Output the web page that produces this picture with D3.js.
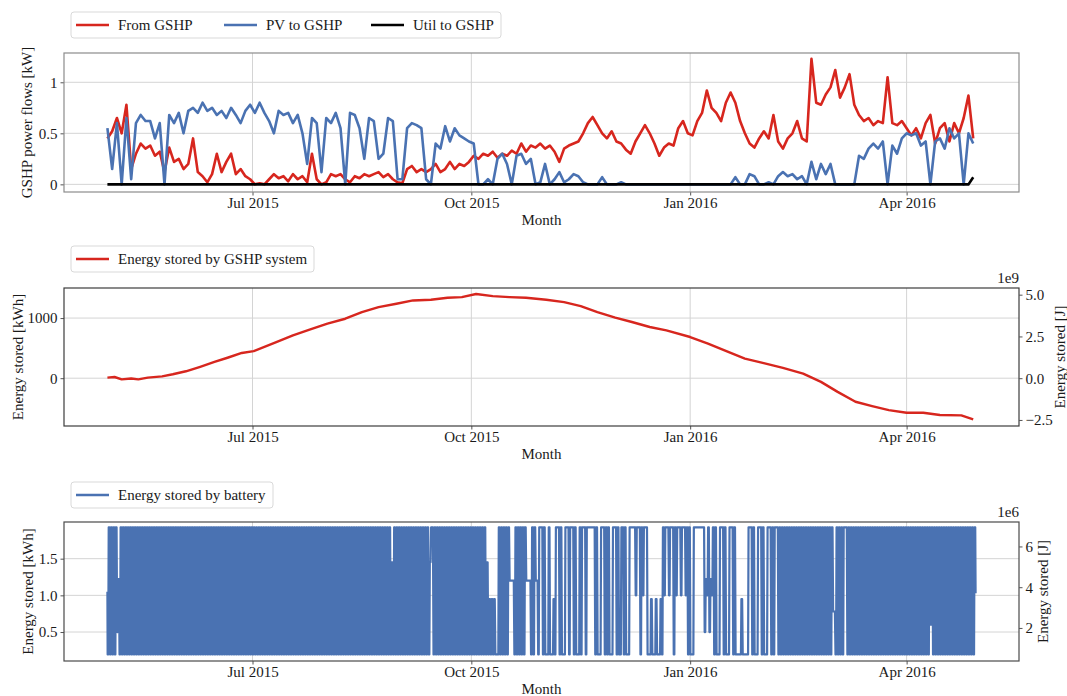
<!DOCTYPE html>
<html>
<head>
<meta charset="utf-8">
<script src="https://cdn.jsdelivr.net/npm/d3@7"></script>
<style>
body { margin: 0; background: #fff; }
svg { display: block; font-family: "Liberation Serif", "Times New Roman", serif; }
.tick text { font-size: 15px; fill: #1a1a1a; }
.tick line { stroke: #555; }
.lbl { font-size: 15px; fill: #1a1a1a; }
</style>
</head>
<body>
<svg id="chart" width="1067" height="696"></svg>
<script>
// series start on 1 May 2015, x values are day offsets from there
var startDate = Date.UTC(2015, 4, 1);

// GSHP power flows [kW], one value every 2 days (day 0, 2, 4 ... 364)
var flowStep = 2;
var fromGshp = [
  0.45, 0.52, 0.65, 0.5, 0.78, 0.15, 0.3, 0.4, 0.35, 0.38,
  0.28, 0.32, 0.12, 0.36, 0.22, 0.25, 0.15, 0.2, 0.45, 0.12,
  0.08, 0.02, 0.1, 0.3, 0.12, 0.22, 0.3, 0.1, 0.15, 0.08,
  0.05, 0.0, 0.01, 0.0, 0.05, 0.1, 0.06, 0.08, 0.03, 0.1,
  0.05, 0.08, 0.02, 0.3, 0.05, 0.0, 0.02, 0.1, 0.08, 0.1,
  0.05, 0.02, 0.08, 0.06, 0.1, 0.08, 0.1, 0.12, 0.07, 0.1,
  0.05, 0.02, 0.01, 0.15, 0.18, 0.12, 0.15, 0.12, 0.15, 0.2,
  0.12, 0.15, 0.22, 0.15, 0.2, 0.18, 0.22, 0.28, 0.25, 0.3,
  0.28, 0.32, 0.26, 0.3, 0.28, 0.33, 0.3, 0.4, 0.32, 0.38,
  0.36, 0.4, 0.35, 0.38, 0.32, 0.22, 0.35, 0.38, 0.4, 0.42,
  0.5, 0.6, 0.66, 0.58, 0.5, 0.45, 0.52, 0.42, 0.4, 0.34,
  0.3, 0.42, 0.5, 0.58, 0.5, 0.4, 0.28, 0.36, 0.4, 0.38,
  0.55, 0.62, 0.5, 0.48, 0.62, 0.7, 0.92, 0.75, 0.7, 0.62,
  0.8, 0.9, 0.8, 0.62, 0.5, 0.4, 0.36, 0.45, 0.52, 0.45,
  0.68, 0.42, 0.35, 0.45, 0.5, 0.62, 0.45, 0.42, 1.23, 0.8,
  0.78, 0.88, 0.95, 1.12, 0.85, 0.95, 1.08, 0.78, 0.68, 0.62,
  0.65, 0.58, 0.62, 0.6, 1.05, 0.6, 0.58, 0.62, 0.55, 0.48,
  0.55, 0.45, 0.6, 0.68, 0.4, 0.55, 0.6, 0.42, 0.6, 0.5,
  0.65, 0.87, 0.45
];
var pvToGshp = [
  0.55, 0.15, 0.6, 0.0, 0.65, 0.05, 0.6, 0.68, 0.62, 0.62,
  0.45, 0.6, 0.0, 0.68, 0.6, 0.7, 0.5, 0.72, 0.75, 0.7,
  0.8, 0.72, 0.75, 0.68, 0.72, 0.65, 0.75, 0.68, 0.6, 0.72,
  0.78, 0.7, 0.8, 0.7, 0.62, 0.5, 0.72, 0.68, 0.7, 0.6,
  0.68, 0.5, 0.2, 0.65, 0.6, 0.12, 0.65, 0.6, 0.7, 0.55,
  0.0, 0.7, 0.68, 0.55, 0.25, 0.65, 0.62, 0.25, 0.3, 0.65,
  0.62, 0.05, 0.05, 0.55, 0.6, 0.58, 0.55, 0.05, 0.0, 0.4,
  0.35, 0.57, 0.42, 0.55, 0.48, 0.45, 0.42, 0.4, 0.0, 0.0,
  0.05, 0.0, 0.25, 0.3, 0.2, 0.0, 0.28, 0.3, 0.2, 0.25,
  0.0, 0.02, 0.2, 0.0, 0.05, 0.12, 0.02, 0.05, 0.1, 0.08,
  0.02, 0, 0, 0, 0.07, 0, 0, 0, 0.02, 0,
  0, 0, 0, 0, 0, 0, 0, 0, 0, 0,
  0, 0, 0, 0, 0, 0, 0, 0, 0, 0,
  0, 0, 0.07, 0, 0, 0.1, 0.08, 0, 0, 0.02,
  0, 0.08, 0.12, 0.08, 0.1, 0.05, 0.08, 0, 0.22, 0.05,
  0.2, 0.1, 0.2, 0, 0, 0, 0, 0, 0.28, 0.25,
  0.35, 0.4, 0.35, 0.42, 0, 0.38, 0.3, 0.45, 0.5, 0.48,
  0.5, 0.38, 0.42, 0, 0.42, 0.45, 0.35, 0.55, 0.45, 0.5,
  0, 0.5, 0.4
];
var utilDays = [0, 362, 364];
var utilToGshp = [0, 0, 0.07];

// energy stored by GSHP system [kWh]
var gshpDays = [0, 3, 6, 10, 13, 17, 23, 27.5, 33, 39, 45, 50.5, 56.5, 61.5, 71, 78, 85, 92.5,
  100, 107, 114, 121.5, 128.5, 136, 143, 149, 155, 162, 169, 176, 184.5, 192, 199, 206, 213.5,
  220.5, 228, 235, 245, 252.5, 261, 268, 275.5, 284, 292.5, 300, 307, 314.5, 321.5, 328.5, 336,
  343, 350, 359, 364];
var gshpStored = [10, 20, -20, -5, -20, 10, 30, 65, 115, 190, 270, 340, 420, 450, 600, 713, 807, 906,
  989, 1100, 1182, 1238, 1293, 1304, 1337, 1348, 1400, 1365, 1348, 1337, 1304, 1265, 1199, 1100, 1006,
  934, 851, 796, 685, 575, 436, 326, 254, 171, 77, -61, -227, -392, -464, -530, -575,
  -575, -613, -619, -685];

// battery: one letter per day (day 0 ... 364), low / high level of that day [kWh]
var batteryPattern = [
  'ccccmccccccccccccccccccccccccc',
  'cccccccccccccccccccccccccccccc',
  'cccccccccccccccccccccccccccccc',
  'ccccccccccccccccccccccccccccca',
  'cccccccccccccccahccccccccccccc',
  'cccccccccabbblccccckkccccckkcc',
  'kchclclbchclchchclcchchhhclchc',
  'clchclhclchhehcehlblblbcehehce',
  'heheclchhhhmemeclchclchcllbllc',
  'hclchclchcchcccccccccccccccccc',
  'cccccncccchccccccccccccccccccc',
  'ccccccccccccccccfccccccccccccc',
  'ccccc'
].join('');
var batteryLevels = {
  c: [0.195, 1.927], h: [1.927, 1.927], l: [0.195, 0.195], a: [0.195, 1.45],
  b: [0.195, 0.95], e: [1.0, 1.927], m: [0.5, 1.22], k: [1.2, 1.2],
  n: [0.78, 0.78], f: [0.6, 1.927]
};
var batteryStart = 1.05;
var batteryEnd = 1.03;

var kwhToJ = 3.6e6;
var monthTicks = [Date.UTC(2015, 6, 1), Date.UTC(2015, 9, 1), Date.UTC(2016, 0, 1), Date.UTC(2016, 3, 1)];

var red = '#d7261e', blue = '#4a72b2';

var svg = d3.select('#chart');
svg.append('rect').attr('width', 1067).attr('height', 696).attr('fill', '#fff');

function dayDate(d) { return new Date(startDate + d * 864e5); }

// x scale with matplotlib style 5% padding
var xExt = [0, 365];
var xPad = (xExt[1] - xExt[0]) * 0.05;
var x = d3.scaleUtc()
  .domain([dayDate(xExt[0] - xPad), dayDate(xExt[1] + xPad)])
  .range([64, 1019]);

var fmtMonth = d3.utcFormat('%b %Y');

function clean(axisG) {
  axisG.attr('font-family', null).attr('font-size', null);
  axisG.select('.domain').remove();
}

function panel(top, bottom, yDomain, yTicks, yFmt, yLabel, yLabelX, frameColor) {
  var y = d3.scaleLinear().domain(yDomain).range([bottom, top]);
  var g = svg.append('g');

  // grid
  g.selectAll('.vg').data(monthTicks).enter().append('line')
    .attr('x1', function(d) { return x(d); }).attr('x2', function(d) { return x(d); })
    .attr('y1', top).attr('y2', bottom)
    .attr('stroke', '#d4d4d4').attr('stroke-width', 1);
  g.selectAll('.hg').data(yTicks).enter().append('line')
    .attr('x1', 64).attr('x2', 1019)
    .attr('y1', function(d) { return y(d); }).attr('y2', function(d) { return y(d); })
    .attr('stroke', '#d4d4d4').attr('stroke-width', 1);

  // axes
  var xa = g.append('g').attr('transform', 'translate(0,' + bottom + ')')
    .call(d3.axisBottom(x).tickValues(monthTicks.map(function(t) { return new Date(t); }))
      .tickFormat(fmtMonth).tickSize(3.5).tickPadding(2));
  clean(xa);
  var ya = g.append('g').attr('transform', 'translate(64,0)')
    .call(d3.axisLeft(y).tickValues(yTicks).tickFormat(yFmt).tickSize(3.5).tickPadding(3));
  clean(ya);

  g.append('text').attr('class', 'lbl')
    .attr('x', (64 + 1019) / 2).attr('y', bottom + 28)
    .attr('text-anchor', 'middle').attr('dominant-baseline', 'central')
    .text('Month');
  g.append('text').attr('class', 'lbl')
    .attr('transform', 'translate(' + yLabelX + ',' + ((top + bottom) / 2) + ') rotate(-90)')
    .attr('text-anchor', 'middle').attr('dominant-baseline', 'central')
    .text(yLabel);

  var plot = g.append('g');
  g.append('rect').attr('x', 64).attr('y', top).attr('width', 1019 - 64).attr('height', bottom - top)
    .attr('fill', 'none').attr('stroke', frameColor).attr('stroke-width', 1.2);
  return { g: g, plot: plot, y: y, top: top, bottom: bottom };
}

function rightAxis(p, ticksJ, fmt, offsetLabel, labelX) {
  var yJ = d3.scaleLinear()
    .domain(p.y.domain().map(function(v) { return v * kwhToJ; }))
    .range(p.y.range());
  var ra = p.g.append('g').attr('transform', 'translate(1019,0)')
    .call(d3.axisRight(yJ).tickValues(ticksJ).tickFormat(fmt).tickSize(3.5).tickPadding(3));
  clean(ra);
  p.g.append('text').attr('class', 'lbl')
    .attr('x', 1019).attr('y', p.top - 5).attr('text-anchor', 'end')
    .text(offsetLabel);
  p.g.append('text').attr('class', 'lbl')
    .attr('transform', 'translate(' + labelX + ',' + ((p.top + p.bottom) / 2) + ') rotate(-90)')
    .attr('text-anchor', 'middle').attr('dominant-baseline', 'central')
    .text('Energy stored [J]');
}

function legend(items, x0, y0, w) {
  var g = svg.append('g');
  g.append('rect').attr('x', x0).attr('y', y0).attr('width', w).attr('height', 26)
    .attr('rx', 3).attr('fill', '#fff').attr('fill-opacity', 0.9)
    .attr('stroke', '#d9d9d9').attr('stroke-width', 1);
  items.forEach(function(it) {
    g.append('line').attr('x1', it.x).attr('x2', it.x + 33)
      .attr('y1', y0 + 13).attr('y2', y0 + 13)
      .attr('stroke', it.color).attr('stroke-width', 2.5);
    g.append('text').attr('class', 'lbl').attr('x', it.x + 42).attr('y', y0 + 13)
      .attr('dominant-baseline', 'central').text(it.name);
  });
}

var minus = function(s) { return s.replace('-', '\u2212'); };

// ---- panel 1: power flows
var p1 = panel(53, 192, [-0.075, 1.287], [0, 0.5, 1], d3.format(''), 'GSHP power flows [kW]', 27, '#8c8c8c');
var line1 = d3.line()
  .x(function(d, i) { return x(dayDate(i * flowStep)); })
  .y(function(d) { return p1.y(d); });
p1.plot.append('path').datum(fromGshp).attr('d', line1)
  .attr('fill', 'none').attr('stroke', red).attr('stroke-width', 2.6).attr('stroke-linejoin', 'round');
p1.plot.append('path').datum(pvToGshp).attr('d', line1)
  .attr('fill', 'none').attr('stroke', blue).attr('stroke-width', 2.6).attr('stroke-linejoin', 'round');
p1.plot.append('path').datum(utilToGshp).attr('d', d3.line()
    .x(function(d, i) { return x(dayDate(utilDays[i])); })
    .y(function(d) { return p1.y(d); }))
  .attr('fill', 'none').attr('stroke', '#000').attr('stroke-width', 2.6);
legend([
  { name: 'From GSHP', color: red, x: 76 },
  { name: 'PV to GSHP', color: blue, x: 224 },
  { name: 'Util to GSHP', color: '#000', x: 371 }
], 71, 12, 430);

// ---- panel 2: GSHP energy store
var p2 = panel(288, 426, [-795, 1500], [0, 1000], d3.format(''), 'Energy stored [kWh]', 18, '#3c3c3c');
p2.plot.append('path').datum(gshpStored).attr('d', d3.line()
    .x(function(d, i) { return x(dayDate(gshpDays[i])); })
    .y(function(d) { return p2.y(d); }))
  .attr('fill', 'none').attr('stroke', red).attr('stroke-width', 2.4).attr('stroke-linejoin', 'round');
rightAxis(p2, [-2.5e9, 0, 2.5e9, 5e9], function(v) { return minus(d3.format('.1f')(v / 1e9)); }, '1e9', 1060);
legend([{ name: 'Energy stored by GSHP system', color: red, x: 76 }], 71, 246, 243);

// ---- panel 3: battery, each day: low in the morning, charged by midday, held, then discharged
var p3 = panel(522, 661, [0.105, 2.0], [0.5, 1.0, 1.5], d3.format('.1f'), 'Energy stored [kWh]', 28, '#4a4a4a');
var battPoints = [[0, batteryStart]];
batteryPattern.split('').forEach(function(code, d) {
  var lv = batteryLevels[code];
  battPoints.push([d + 0.1, lv[0]], [d + 0.35, lv[0]], [d + 0.55, lv[1]], [d + 0.85, lv[1]]);
});
battPoints.push([365, batteryEnd]);
p3.plot.append('path').datum(battPoints).attr('d', d3.line()
    .x(function(d) { return x(dayDate(d[0])); })
    .y(function(d) { return p3.y(d[1]); }))
  .attr('fill', 'none').attr('stroke', blue).attr('stroke-width', 2.2).attr('stroke-linejoin', 'round');
rightAxis(p3, [2e6, 4e6, 6e6], function(v) { return d3.format('d')(v / 1e6); }, '1e6', 1043);
legend([{ name: 'Energy stored by battery', color: blue, x: 76 }], 71, 482, 202);
</script>
</body>
</html>
